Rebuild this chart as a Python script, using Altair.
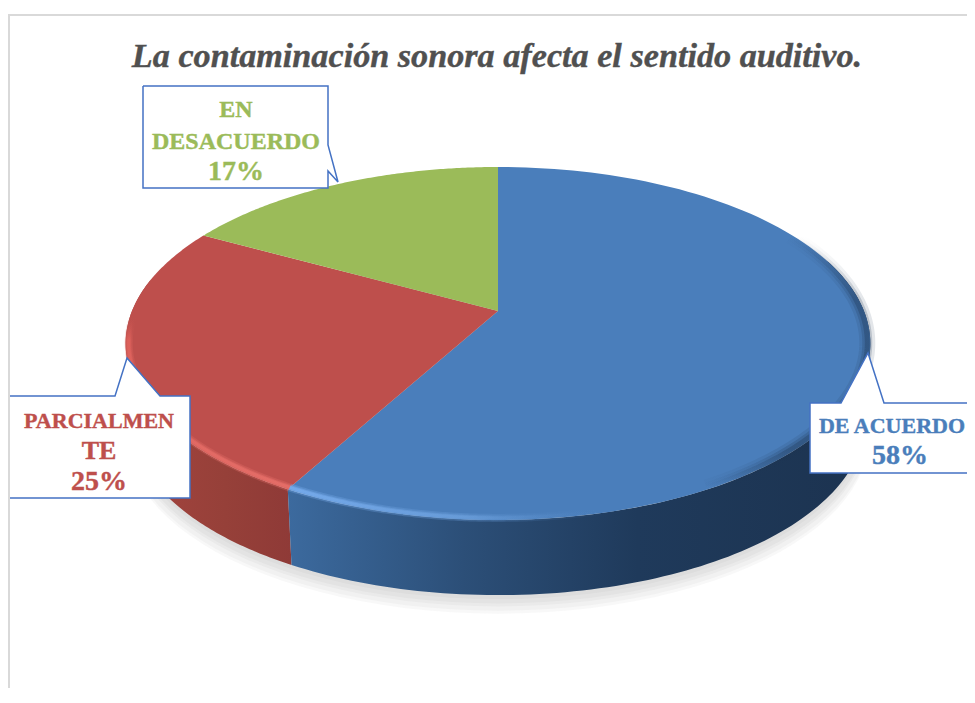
import math
import altair as alt
import pandas as pd

TITLE = "La contaminación sonora afecta el sentido auditivo."
NAMES = ["DE ACUERDO", "PARCIALMENTE", "EN DESACUERDO"]
SHARES = [58, 25, 17]
TOP_COLORS = ["#4a7ebb", "#be4f4c", "#9bbb59"]
FONT = "Liberation Serif"

# disc geometry in picture units, used only to project the shares into perspective
CX, CY, AX, BY, K = 498.0, 311.0, 366.0, 170.5, 0.184
WALL = 79.0
W, H = 959, 680

XS = alt.Scale(domain=[8, 8 + W], range=[0, W], nice=False, zero=False)
YS = alt.Scale(domain=[8, 8 + H], range=[0, H], nice=False, zero=False)


def ring(frac, scale=1.0, dy=0.0):
    t = 2 * math.pi * frac
    u, v = math.sin(t) * scale, math.cos(t) * scale
    d = 1 + K * v
    return CX + AX * u / d, CY - BY * v / d + dy


def arc(f0, f1, scale=1.0, dy=0.0, n=120):
    return [ring(f0 + (f1 - f0) * i / n, scale, dy) for i in range(n + 1)]


def shape(points, **mark):
    df = pd.DataFrame(points, columns=["x", "y"])
    df["o"] = range(len(df))
    mark.setdefault("clip", True)
    return (
        alt.Chart(df)
        .mark_line(**mark)
        .encode(
            x=alt.X("x:Q", scale=XS, axis=None),
            y=alt.Y("y:Q", scale=YS, axis=None),
            order="o:Q",
        )
    )


def grad(*stops, x1=0, x2=1, y1=0, y2=0):
    return alt.Gradient(
        gradient="linear", x1=x1, x2=x2, y1=y1, y2=y2,
        stops=[alt.GradientStop(offset=o, color=c) for o, c in stops],
    )


def text(label, x, y, color, size, **kw):
    df = pd.DataFrame({"x": [x], "y": [y], "t": [label]})
    return (
        alt.Chart(df)
        .mark_text(font=FONT, fontWeight="bold", fontSize=size, color=color,
                   align="center", baseline="alphabetic", clip=True,
                   stroke=color, strokeWidth=0.4, **kw)
        .encode(x=alt.X("x:Q", scale=XS, axis=None),
                y=alt.Y("y:Q", scale=YS, axis=None),
                text="t:N")
    )


b0 = 0.0
b1 = SHARES[0] / 100
b2 = (SHARES[0] + SHARES[1]) / 100

layers = []

# frame
layers.append(shape([(9, 703), (9, 15), (975, 15)], stroke="#d9d9d9", strokeWidth=2))

# soft shadow under the disc
for s, dy in [(0.995, WALL + 16), (0.995, WALL + 13), (0.99, WALL + 10), (0.99, WALL + 7), (0.985, WALL + 4)]:
    layers.append(shape(arc(0, 1, s, dy), fill="#555555", fillOpacity=0.045, stroke=None, interpolate="linear-closed"))

# side walls
blue_wall = arc(0.20, b1) + arc(b1, 0.20, 0.985, WALL)
red_wall = arc(b1, 0.78) + arc(0.78, b1, 0.985, WALL)
layers.append(shape(red_wall, fill=grad((0, "#a5443f"), (0.6, "#964039"), (1, "#8f3a37")), stroke=None, interpolate="linear-closed"))
layers.append(shape(blue_wall, fill=grad((0, "#3c6a9e"), (0.3, "#2c4f78"), (0.6, "#1f3a5b"), (1, "#1c3350")), stroke=None, interpolate="linear-closed"))

# top faces
starts = [b0, b1, b2]
ends = [b1, b2, 1.0]
for f0, f1, c in zip(starts, ends, TOP_COLORS):
    layers.append(shape([(CX, CY)] + arc(f0, f1), fill=c, stroke=None, interpolate="linear-closed"))

# bevel highlights and dark rim shading
RED_HI = grad((0, "rgba(190,79,76,0)"), (0.14, "#e0635d"), (1, "#e8706a"), x1=0, x2=0, y1=0, y2=1)
for w, op in [(8, 0.3), (5, 0.5), (3, 0.7)]:
    layers.append(shape(arc(b1, 0.745, 0.992), stroke=RED_HI, strokeWidth=w, strokeOpacity=op))
BLUE_HI = grad((0, "#79aeef"), (0.55, "#6a9edb"), (1, "rgba(74,126,187,0)"))
for w, op in [(8, 0.3), (5, 0.5), (3, 0.7)]:
    layers.append(shape(arc(b1 - 0.12, b1, 0.992), stroke=BLUE_HI, strokeWidth=w, strokeOpacity=op))
DARK = grad((0, "rgba(28,51,80,0)"), (0.25, "#1c3350"), (0.85, "#1c3350"), (1, "rgba(28,51,80,0)"), x1=0, x2=0, y1=0, y2=1)
for w, op in [(16, 0.12), (10, 0.2), (5, 0.3)]:
    layers.append(shape(arc(0.17, 0.42, 0.992), stroke=DARK, strokeWidth=w, strokeOpacity=op))

# callouts
CALLOUT = "#4472c4"
layers.append(shape([(143, 86), (328, 86), (328, 145), (338, 182), (328, 171), (328, 188), (143, 188), (143, 86)],
                    fill="#ffffff", stroke=CALLOUT, strokeWidth=1.5))
layers.append(shape([(10, 396), (115, 396), (127, 358), (160, 396), (190, 396), (190, 498), (10, 498)],
                    fill="#ffffff", stroke=CALLOUT, strokeWidth=1.5))
layers.append(shape([(975, 403), (884, 403), (868, 353), (841, 403), (810, 403), (810, 473), (975, 473)],
                    fill="#ffffff", stroke=CALLOUT, strokeWidth=1.5))

# texts
LBL = 24
PCT = 28
layers.append(text(TITLE, 497, 67, "#505050", 34.2, fontStyle="italic"))
layers.append(text("EN", 236, 117, TOP_COLORS[2], LBL))
layers.append(text("DESACUERDO", 236, 149, TOP_COLORS[2], LBL))
layers.append(text(f"{SHARES[2]}%", 236, 180, TOP_COLORS[2], PCT))
layers.append(text("PARCIALMEN", 99, 428, TOP_COLORS[1], 22))
layers.append(text("TE", 99, 459, TOP_COLORS[1], 26))
layers.append(text(f"{SHARES[1]}%", 99, 490, TOP_COLORS[1], PCT))
layers.append(text("DE ACUERDO", 892, 433, TOP_COLORS[0], 22))
layers.append(text(f"{SHARES[0]}%", 900, 464, TOP_COLORS[0], PCT))

chart = (
    alt.layer(*layers)
    .properties(width=W, height=H, padding=0, background="#ffffff",
                autosize=alt.AutoSizeParams(type="none"))
    .configure_view(stroke=None)
)
chart.save("out.html", embed_options={"renderer": "svg", "actions": False})
